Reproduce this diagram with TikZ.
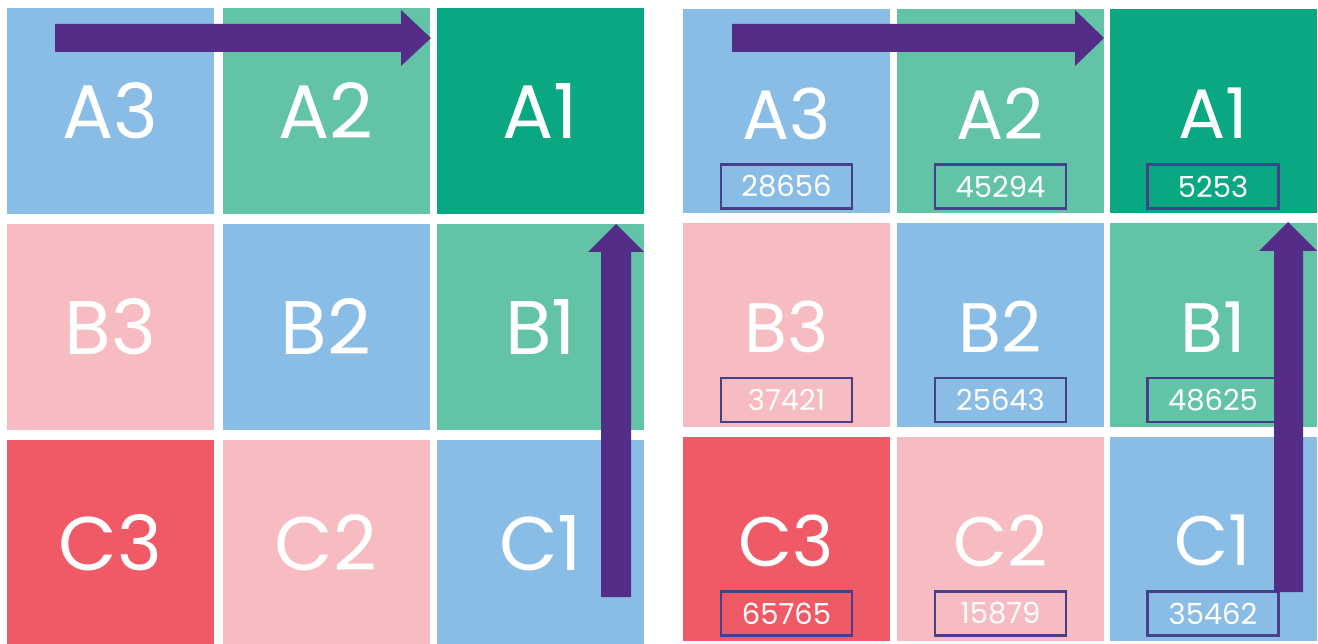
\documentclass[tikz,border=0pt]{standalone}
\usepackage{fontspec}
\setmainfont{Poppins}
\usetikzlibrary{calc}
\definecolor{cellblue}{HTML}{8ABDE6}
\definecolor{cellgreen}{HTML}{63C3A6}
\definecolor{celldark}{HTML}{0AA882}
\definecolor{cellpink}{HTML}{F7BCC1}
\definecolor{cellred}{HTML}{F05A66}
\definecolor{arrowpurple}{HTML}{532D87}
\definecolor{boxline}{HTML}{46408A}
\tikzset{
  cell/.style={inner sep=0pt, text=white, minimum width=207pt},
  bigcell/.style={cell, minimum height=206pt, font=\fontsize{76}{76}\selectfont},
  smallcell/.style={cell, minimum height=204pt, font=\fontsize{70}{70}\selectfont},
  numbox/.style={draw=boxline, line width=2.2pt, inner sep=0pt, minimum width=131pt,
    minimum height=44pt, text=white, font=\fontsize{29}{29}\selectfont},
  blockarrow/.style={fill=arrowpurple}
}
\begin{document}
\begin{tikzpicture}[x=1pt,y=-1pt]
\useasboundingbox (0,0) rectangle (1318,644);
\fill[white] (0,0) rectangle (1318,644);

% left grid: plain cells
\node[bigcell, fill=cellblue]  (LA3) at (110.5,111) {A3};
\node[bigcell, fill=cellgreen] (LA2) at (326,111) {A2};
\node[bigcell, fill=celldark]  (LA1) at (540.5,111) {A1};
\node[bigcell, fill=cellpink]  (LB3) at (110.5,327) {B3};
\node[bigcell, fill=cellblue]  (LB2) at (326,327) {B2};
\node[bigcell, fill=cellgreen] (LB1) at (540.5,327) {B1};
\node[bigcell, fill=cellred]   (LC3) at (110.5,543) {C3};
\node[bigcell, fill=cellpink]  (LC2) at (326,543) {C2};
\node[bigcell, fill=cellblue]  (LC1) at (540.5,543) {C1};

% right grid: cells with values
\foreach \name/\x/\y/\col/\lab/\val in {
  RA3/786.5/111.5/cellblue/A3/28656, RA2/1000.5/111.5/cellgreen/A2/45294, RA1/1213/111.5/celldark/A1/5253,
  RB3/786.5/325/cellpink/B3/37421, RB2/1000.5/325/cellblue/B2/25643, RB1/1213/325/cellgreen/B1/48625,
  RC3/786.5/538.5/cellred/C3/65765, RC2/1000.5/538.5/cellpink/C2/15879, RC1/1213/538.5/cellblue/C1/35462}{
  \node[smallcell, fill=\col] (\name) at (\x,\y) {};
  \node[text=white, inner sep=0pt, font=\fontsize{70}{70}\selectfont] (\name-lab) at ($(\name.center)+(0,2)$) {\lab};
  \node[numbox] (\name-val) at ($(\name.center)+(0,75)$) {\val};
}

% traversal arrows, left grid
\coordinate (la) at (55,24);
\fill[blockarrow] (la) -- (401,24) -- (401,10) -- (431,38) -- (401,66) -- (401,52) -- (55,52) -- cycle;
\coordinate (lb) at (601,597);
\fill[blockarrow] (lb) -- (601,252) -- (588,252) -- (616,224) -- (644,252) -- (631,252) -- (631,597) -- cycle;

% traversal arrows, right grid
\coordinate (ra) at (732,24);
\fill[blockarrow] (ra) -- (1075,24) -- (1075,10) -- (1104,38) -- (1075,66) -- (1075,52) -- (732,52) -- cycle;
\coordinate (rb) at (1274,592);
\fill[blockarrow] (rb) -- (1274,251) -- (1259,251) -- (1288,222) -- (1317,251) -- (1303,251) -- (1303,592) -- cycle;
\end{tikzpicture}
\end{document}
